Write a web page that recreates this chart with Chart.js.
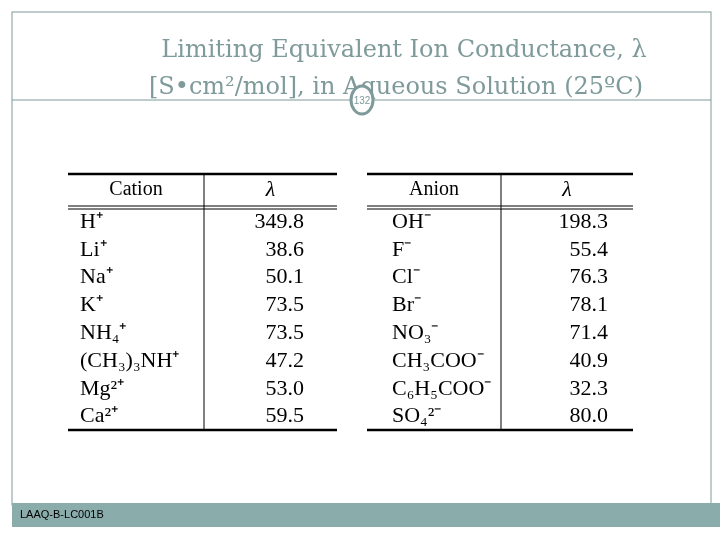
<!DOCTYPE html>
<html>
<head>
<script src="https://cdn.jsdelivr.net/npm/chart.js"></script>
<style>
  body { margin: 0; background: #fff; }
  #wrap { width: 720px; height: 540px; }
</style>
</head>
<body>
<div id="wrap"><canvas id="slide"></canvas></div>
<script>
// table contents
const cations = ['H⁺', 'Li⁺', 'Na⁺', 'K⁺', 'NH₄⁺', '(CH₃)₃NH⁺', 'Mg²⁺', 'Ca²⁺'];
const cationValues = ['349.8', '38.6', '50.1', '73.5', '73.5', '47.2', '53.0', '59.5'];
const anions = ['OH⁻', 'F⁻', 'Cl⁻', 'Br⁻', 'NO₃⁻', 'CH₃COO⁻', 'C₆H₅COO⁻', 'SO₄²⁻'];
const anionValues = ['198.3', '55.4', '76.3', '78.1', '71.4', '40.9', '32.3', '80.0'];
const titleLines = ['Limiting Equivalent Ion Conductance, λ', '[S•cm²/mol], in Aqueous Solution (25ºC)'];
const footer = 'LAAQ-B-LC001B';
const pageNo = '132';

const grey = '#7f9a9a';

// draws the slide in data coordinates of a 720x540 linear grid
const slidePlugin = {
    id: 'slide',
    afterDraw(chart) {
        const ctx = chart.ctx;
        const X = v => chart.scales.x.getPixelForValue(v);
        const Y = v => chart.scales.y.getPixelForValue(v);
        ctx.save();

        // frame
        ctx.strokeStyle = grey;
        ctx.lineWidth = 1;
        ctx.strokeRect(X(12), Y(12), X(711) - X(12), Y(505) - Y(12));
        ctx.beginPath();
        ctx.moveTo(X(12), Y(100)); ctx.lineTo(X(711), Y(100));
        ctx.stroke();

        // footer bar
        ctx.fillStyle = '#8aacaa';
        ctx.fillRect(X(12), Y(503), X(720) - X(12), Y(527) - Y(503));
        ctx.fillStyle = '#000';
        ctx.font = '11px "Liberation Sans", Arial, sans-serif';
        ctx.textAlign = 'left';
        ctx.textBaseline = 'middle';
        ctx.fillText(footer, X(20), Y(515));

        // title
        ctx.fillStyle = grey;
        ctx.textAlign = 'center';
        ctx.textBaseline = 'alphabetic';
        ctx.font = '24px "DejaVu Serif", Georgia, serif';
        ctx.fillText(titleLines[0], X(404), Y(57));
        ctx.fillText(titleLines[1], X(396), Y(94));

        // page circle
        ctx.fillStyle = '#fff';
        ctx.strokeStyle = grey;
        ctx.lineWidth = 3;
        ctx.beginPath();
        ctx.ellipse(X(362), Y(100), 11, 14, 0, 0, Math.PI * 2);
        ctx.fill(); ctx.stroke();
        ctx.fillStyle = grey;
        ctx.font = '10px "Liberation Sans", sans-serif';
        ctx.textAlign = 'center';
        ctx.textBaseline = 'middle';
        ctx.fillText(pageNo, X(362), Y(101));

        // tables
        drawTable(ctx, X, Y, 68, 337, 204, 'Cation', cations, cationValues, 80, 304);
        drawTable(ctx, X, Y, 367, 633, 501, 'Anion', anions, anionValues, 392, 608);
        ctx.restore();
    }
};

function drawTable(ctx, X, Y, x0, x1, xDiv, head, names, vals, nameX, valX) {
    ctx.strokeStyle = '#000';
    ctx.lineWidth = 2.5;
    ctx.beginPath();
    ctx.moveTo(X(x0), Y(174)); ctx.lineTo(X(x1), Y(174));
    ctx.moveTo(X(x0), Y(430)); ctx.lineTo(X(x1), Y(430));
    ctx.stroke();
    ctx.lineWidth = 1;
    ctx.beginPath();
    ctx.moveTo(X(x0), Y(206)); ctx.lineTo(X(x1), Y(206));
    ctx.moveTo(X(x0), Y(209)); ctx.lineTo(X(x1), Y(209));
    ctx.moveTo(X(xDiv), Y(174)); ctx.lineTo(X(xDiv), Y(430));
    ctx.stroke();

    ctx.fillStyle = '#000';
    ctx.textBaseline = 'middle';
    ctx.font = '20px "Liberation Serif", "Times New Roman", serif';
    ctx.textAlign = 'center';
    ctx.fillText(head, X((x0 + xDiv) / 2), Y(190));
    ctx.font = 'italic 22px "Liberation Serif", serif';
    ctx.fillText('λ', X((xDiv + x1) / 2), Y(190));
    ctx.font = '22px "Liberation Serif", "Times New Roman", serif';
    names.forEach((n, i) => {
        const y = Y(222 + i * 27.8);
        ctx.textAlign = 'left';
        ctx.fillText(n, X(nameX), y);
        ctx.textAlign = 'right';
        ctx.fillText(vals[i], X(valX), y);
    });
}

new Chart(document.getElementById('slide'), {
    type: 'scatter',
    data: { datasets: [{ data: [], pointRadius: 0 }] },
    options: {
        responsive: true,
        maintainAspectRatio: false,
        animation: false,
        layout: { padding: 0 },
        plugins: { legend: { display: false }, tooltip: { enabled: false } },
        scales: {
            x: { type: 'linear', min: 0, max: 720, display: false },
            y: { type: 'linear', min: 0, max: 540, reverse: true, display: false }
        }
    },
    plugins: [slidePlugin]
});
</script>
</body>
</html>
